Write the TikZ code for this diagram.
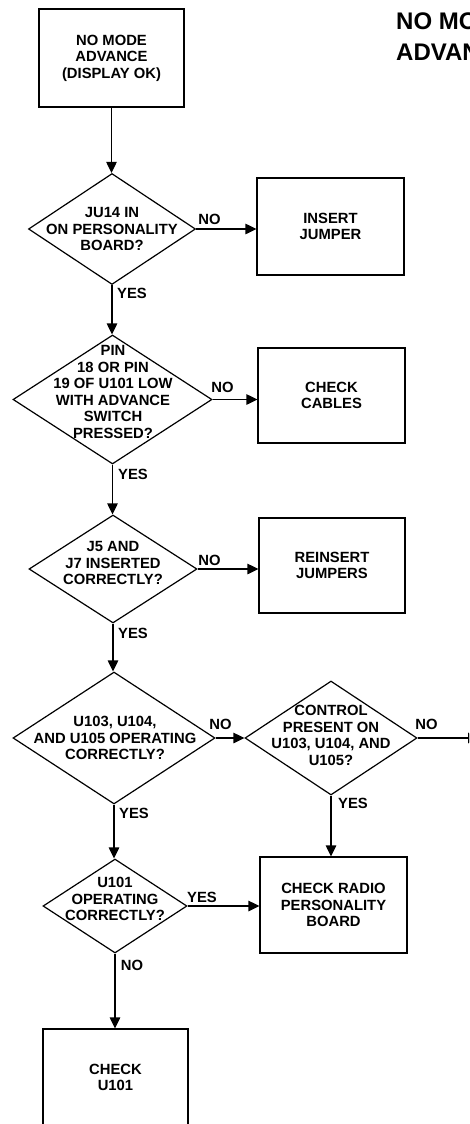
\documentclass[tikz,border=0pt]{standalone}
\usepackage{fontspec}
\setmainfont{Liberation Sans}
\usetikzlibrary{shapes.geometric,arrows.meta}
\begin{document}
\begin{tikzpicture}[x=1pt,y=-1pt,
  every node/.style={font=\fontsize{14.8}{16.5}\selectfont\bfseries, inner sep=0pt},
  box/.style={draw, line width=1.2pt, rectangle, align=center},
  dia/.style={draw, line width=1.2pt, diamond, inner sep=0pt},
  txt/.style={align=center},
  lbl/.style={},
  arr/.style={line width=1.2pt, -{Triangle[length=11pt,width=10.5pt]}},
  ttl/.style={font=\fontsize{24}{31}\selectfont\bfseries, align=left, anchor=north west}]
\useasboundingbox (0,0) rectangle (469,1124);
\clip (0,0) rectangle (469,1124);

% title (cut off at the right edge, as in the reference)
\node[ttl] (title) at (396,13) {NO MODE\\ADVANCE};

% boxes
\node[box, minimum width=145pt, minimum height=98pt] (start) at (111.5,58) {NO MODE\\ADVANCE\\(DISPLAY OK)};
\node[box, minimum width=147pt, minimum height=97pt] (binsert) at (330.5,226.5) {INSERT\\JUMPER};
\node[box, minimum width=147pt, minimum height=95pt] (bcables) at (331.5,395.5) {CHECK\\CABLES};
\node[box, minimum width=146pt, minimum height=95pt] (breins) at (332,565.5) {REINSERT\\JUMPERS};
\node[box, minimum width=147pt, minimum height=96pt] (bradio) at (333.5,905) {CHECK RADIO\\PERSONALITY\\BOARD};
\node[box, minimum width=145pt, minimum height=97pt] (bu101) at (115.5,1077.5) {CHECK\\U101};

% diamonds
\node[dia, minimum width=167pt, minimum height=111pt] (d1) at (112,229) {};
\node[txt] (d1t) at (112,229) {JU14 IN\\ON PERSONALITY\\BOARD?};
\node[dia, minimum width=199pt, minimum height=129pt] (d2) at (112.5,399.5) {};
\node[txt] (d2t) at (113,392) {PIN\\18 OR PIN\\19 OF U101 LOW\\WITH ADVANCE\\SWITCH\\PRESSED?};
\node[dia, minimum width=168pt, minimum height=108pt] (d3) at (113,569) {};
\node[txt] (d3t) at (113,563) {J5 AND\\J7 INSERTED\\CORRECTLY?};
\node[dia, minimum width=202pt, minimum height=132pt] (d4) at (114,738) {};
\node[txt] (d4t) at (115,738) {U103, U104,\\AND U105 OPERATING\\CORRECTLY?};
\node[dia, minimum width=172pt, minimum height=114pt] (d5) at (331,738) {};
\node[txt] (d5t) at (331,735.5) {CONTROL\\PRESENT ON\\U103, U104, AND\\U105?};
\node[dia, minimum width=144pt, minimum height=94pt] (d6) at (115,906) {};
\node[txt] (d6t) at (115,899) {U101\\OPERATING\\CORRECTLY?};

\coordinate (offpage) at (479,738);

% connectors
\draw[arr] (start.south) -- (start.south |- d1.north);
\draw[arr] (d1.east) -- (d1.east -| binsert.west);
\draw[arr] (d1.south) -- (d1.south |- d2.north);
\draw[arr] (d2.east) -- (d2.east -| bcables.west);
\draw[arr] (d2.south) -- (d2.south |- d3.north);
\draw[arr] (d3.east) -- (d3.east -| breins.west);
\draw[arr] (d3.south) -- (d3.south |- d4.north);
\draw[arr] (d4.east) -- (d5.west);
\draw[arr] (d5.east) -- (offpage);
\draw[arr] (d5.south) -- (d5.south |- bradio.north);
\draw[arr] (d4.south) -- (d4.south |- d6.north);
\draw[arr] (d6.east) -- (d6.east -| bradio.west);
\draw[arr] (d6.south) -- (d6.south |- bu101.north);

% labels
\node[lbl] (n1) at (209.5,219) {NO};
\node[lbl] (y1) at (132,293) {YES};
\node[lbl] (n2) at (222.5,387) {NO};
\node[lbl] (y2) at (133,474) {YES};
\node[lbl] (n3) at (209.5,560) {NO};
\node[lbl] (y3) at (133,633) {YES};
\node[lbl] (n4) at (220.5,724) {NO};
\node[lbl] (n5) at (426.5,724) {NO};
\node[lbl] (y5) at (353,803) {YES};
\node[lbl] (y4) at (134,813) {YES};
\node[lbl] (y6) at (202,897) {YES};
\node[lbl] (n6) at (132,965) {NO};
\end{tikzpicture}
\end{document}
